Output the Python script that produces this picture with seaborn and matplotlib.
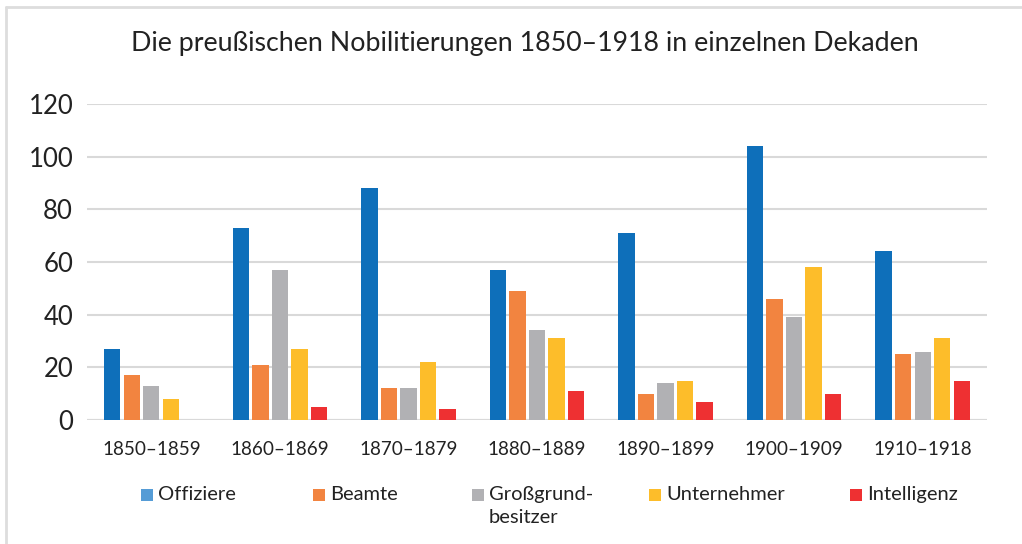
import matplotlib
matplotlib.use("Agg")
import matplotlib.pyplot as plt
import matplotlib.patches as mpatches
import matplotlib.lines as mlines
import seaborn as sns
import pandas as pd

decades = ["1850–1859", "1860–1869", "1870–1879", "1880–1889", "1890–1899", "1900–1909", "1910–1918"]
groups = ["Offiziere", "Beamte", "Großgrund-\nbesitzer", "Unternehmer", "Intelligenz"]
offiziere = [27, 73, 88, 57, 71, 104, 64]
beamte = [17, 21, 12, 49, 10, 46, 25]
grossgrund = [13, 57, 12, 34, 14, 39, 26]
unternehmer = [8, 27, 22, 31, 15, 58, 31]
intelligenz = [0, 5, 4, 11, 7, 10, 15]
yticks = [0, 20, 40, 60, 80, 100, 120]

bar_colors = ["#0E6FBA", "#F28440", "#B1B1B4", "#FDBD2A", "#EE3032"]
legend_colors = ["#559CD6", "#F28440", "#B1B1B4", "#FDBD2A", "#EE3032"]

series = [offiziere, beamte, grossgrund, unternehmer, intelligenz]
rows = []
for g, vals in zip(groups, series):
    for d, v in zip(decades, vals):
        rows.append({"Dekade": d, "Gruppe": g, "Anzahl": v})
df = pd.DataFrame(rows)

sns.set_theme(style="white")
plt.rcParams["font.family"] = ["Lato", "DejaVu Sans"]

W, H = 1022, 544
fig = plt.figure(figsize=(W / 100, H / 100), dpi=100)
ax = fig.add_axes([87/W, 1-420/H, 900/W, 316/H])

sns.barplot(data=df, x="Dekade", y="Anzahl", hue="Gruppe", order=decades,
            hue_order=groups, palette=bar_colors, width=0.76, gap=0.16,
            ax=ax, legend=False, saturation=1, edgecolor="none")

ax.set_ylim(0, 120)
ax.set_yticks(yticks)
ax.set_xlim(-0.5, len(decades) - 0.5)
ax.grid(axis="y", color="#D9D9D9", linewidth=1.5)
ax.set_axisbelow(True)
for s in ax.spines.values():
    s.set_visible(False)
ax.axhline(0, color="#D9D9D9", linewidth=1.5, zorder=0.5)
ax.set_xlabel("")
ax.set_ylabel("")
ax.tick_params(axis="y", labelsize=18.5, length=0, pad=10, colors="#222222")
ax.tick_params(axis="x", labelsize=13.6, length=0, pad=15, colors="#222222")

fig.suptitle("Die preußischen Nobilitierungen 1850–1918 in einzelnen Dekaden",
             x=525/W, y=1-44/H, va="center", fontsize=19.3, color="#222222")

# legend: manually positioned squares and labels
sq_x = [141, 313, 472, 649, 850]
sq = 12
for x0, c, g in zip(sq_x, legend_colors, groups):
    fig.add_artist(mpatches.Rectangle((x0 / W, 1 - 501 / H), sq / W, sq / H,
                                      facecolor=c, edgecolor="none",
                                      transform=fig.transFigure))
    fig.text((x0 + 17) / W, 1 - 486 / H, g, ha="left", va="top",
             fontsize=14.5, color="#222222", linespacing=1.45)

# frame lines (top and left)
fig.add_artist(mlines.Line2D([6/W, 1], [1-7/H, 1-7/H], color="#DDDDDD", lw=2, transform=fig.transFigure))
fig.add_artist(mlines.Line2D([6/W, 6/W], [0, 1-7/H], color="#DDDDDD", lw=2, transform=fig.transFigure))

fig.savefig("out.png", dpi=100)
